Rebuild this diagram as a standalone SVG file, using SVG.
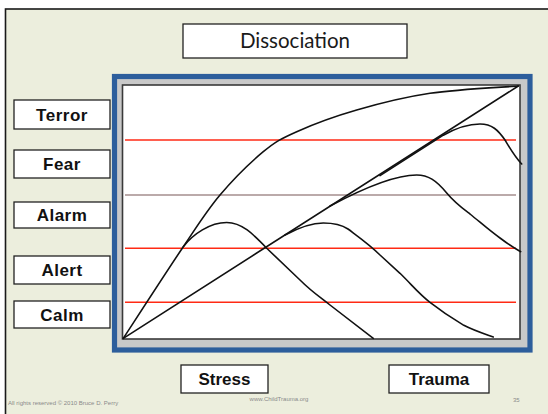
<svg xmlns="http://www.w3.org/2000/svg" width="548" height="414" viewBox="0 0 548 414">
<defs>
<style>
.box{fill:#fff;stroke:#222;stroke-width:1.3}
.lbl{font-family:"Liberation Sans",Arial,sans-serif;font-weight:bold;font-size:17px;fill:#111;text-anchor:middle}
.lv{letter-spacing:0.5px}
.curve{fill:none;stroke:#111;stroke-width:1.6;stroke-linecap:round;stroke-linejoin:round}
.red{stroke:#ff2a14;stroke-width:1.6}
.grey{stroke:#a48e8e;stroke-width:1.6}
.foot{font-family:"Liberation Sans",Arial,sans-serif;font-size:6px;fill:#8a8a8a}
</style>
</defs>
<rect x="0" y="0" width="548" height="414" fill="#ffffff"/>
<rect x="5.5" y="9" width="600" height="500" fill="#eceedd" stroke="#1a1a1a" stroke-width="1.6"/>

<g id="title">
<rect class="box" x="183" y="24" width="224" height="34"/>
<text x="295" y="48" font-family="Lato,'Open Sans',sans-serif" font-size="20.5" fill="#1a1a1a" text-anchor="middle">Dissociation</text>
</g>

<g id="chart-frame">
<rect x="114.5" y="76.5" width="415.5" height="273.5" fill="#c9c9c9" stroke="#2d5e9c" stroke-width="5.2"/>
<rect x="122.5" y="85" width="397.5" height="254" fill="#ffffff" stroke="#3a3a3a" stroke-width="1.6"/>
</g>

<g id="levels">
<line class="red" x1="125" y1="140" x2="516" y2="140"/>
<line class="grey" x1="125" y1="195" x2="516" y2="195"/>
<line class="red" x1="125" y1="248.3" x2="516" y2="248.3"/>
<line class="red" x1="125" y1="302.3" x2="516" y2="302.3"/>
</g>

<g id="connectors">
<path class="curve" d="M123.3,338.3 C133.3,323 167.2,270.6 183.3,246.7 C199.4,222.8 206.7,210.8 220,195 C233.3,179.2 250.5,162.3 263.3,151.7 C276.1,141.1 281.1,138.7 296.7,131.7 C312.3,124.7 334.5,116.4 356.7,110 C378.9,103.6 403.1,97.3 430,93.3 C456.9,89.3 503.6,87.2 518.3,86"/>
<path class="curve" d="M123.3,338.3 L518.3,86"/>
<path class="curve" d="M183.3,246.7 C193,234 210,222.5 226.7,222.5 C242,222.5 253,234 267,248.5 L300,280 C312,292 320,297 330,305 L373.3,338.3"/>
<path class="curve" d="M285,235 C300,227 312,223 323.3,223 C335,223 342,225 348,229 C360,238 370,245 380,255 L400,273.3 C412,285 420,295 430,302.3 C445,314 455,320 463.3,325 C475,331 485,334 493.3,337"/>
<path class="curve" d="M330,206 C360,190 395,175 416.7,175 C428,175 436,180 446.7,193 C455,203 462,208 470,214 C480,222 490,231 500,238 C508,244 514,248 520.7,251.7"/>
<path class="curve" d="M380,175.6 L443.3,135.2 C458,127 470,124 480,124 C492,124 498,130 505,140 C511,150 515,157 521.7,164"/>
</g>

<g id="terror"><rect class="box" x="14" y="100" width="96" height="29"/><text class="lbl lv" x="62" y="120.5">Terror</text></g>
<g id="fear"><rect class="box" x="14" y="150" width="96" height="28" stroke-width="1.8"/><text class="lbl lv" x="62" y="170.2">Fear</text></g>
<g id="alarm"><rect class="box" x="14" y="202" width="96" height="26"/><text class="lbl lv" x="62" y="221.2">Alarm</text></g>
<g id="alert"><rect class="box" x="14" y="256" width="96" height="28" stroke-width="1.6"/><text class="lbl lv" x="62" y="276.2">Alert</text></g>
<g id="calm"><rect class="box" x="14" y="301" width="96" height="27"/><text class="lbl lv" x="62" y="320.8">Calm</text></g>

<g id="stress"><rect class="box" x="181" y="365" width="87" height="28" stroke-width="1.6"/><text class="lbl" x="224.5" y="385.2">Stress</text></g>
<g id="trauma"><rect class="box" x="389" y="365" width="100" height="28" stroke-width="1.6"/><text class="lbl" x="439" y="385.2">Trauma</text></g>

<g id="footer">
<text class="foot" x="8" y="405">All rights reserved © 2010 Bruce D. Perry</text>
<text class="foot" x="279" y="401" text-anchor="middle">www.ChildTrauma.org</text>
<text class="foot" x="513" y="402">35</text>
</g>
</svg>
